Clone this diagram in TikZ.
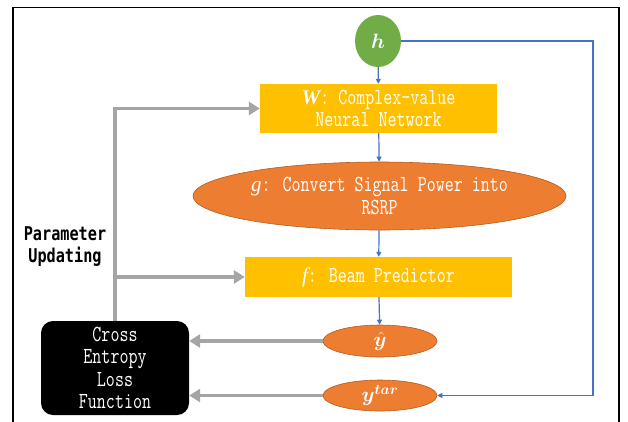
\documentclass[tikz,border=0pt]{standalone}
\usepackage{fontspec}
\usepackage{amsmath,bm}
\usetikzlibrary{arrows.meta,shapes.geometric,calc}
\newfontfamily\boxfont[FakeStretch=0.76]{Latin Modern Mono}
\newfontfamily\labfont[FakeStretch=0.8]{DejaVu Sans Mono}
\newfontfamily\symfont{Liberation Serif}
\definecolor{cyellow}{HTML}{FFC000}
\definecolor{corange}{HTML}{ED7D31}
\definecolor{corangeedge}{HTML}{B65C20}
\definecolor{cgreen}{HTML}{70AD47}
\definecolor{cblue}{HTML}{4472C4}
\definecolor{cgray}{HTML}{A5A5A5}
\tikzset{
  boxtext/.style={text=white,font=\boxfont\fontsize{23}{22.5}\selectfont,align=center,inner sep=0pt},
  yellowbox/.style={boxtext,rectangle,fill=cyellow},
  orangeell/.style={boxtext,ellipse,fill=corange,draw=corangeedge,line width=0.6pt},
  flowarrow/.style={cblue,line width=1.2pt,-{Triangle[length=5pt,width=5pt]}},
  feedback/.style={cgray,line width=3.6pt,-{Triangle[length=11pt,width=13pt]}},
}
\begin{document}
\begin{tikzpicture}[x=1pt,y=-1pt]
\useasboundingbox (0,0) rectangle (628,421);
% outer frame (open at the bottom)
\draw[line width=1.2pt] (13,430) -- (13,7.5) -- (619,7.5) -- (619,430);

% main chain
\node[ellipse,fill=cgreen,minimum width=46pt,minimum height=52pt,inner sep=0pt,text=white,font=\fontsize{20}{20}\selectfont] (h) at (378,41) {$\bm{h}$};
\node[yellowbox,minimum width=237pt,minimum height=49pt] (W) at (378.5,108.5)
  {{\symfont\fontsize{21}{21}\selectfont\bfseries\itshape W}: Complex-value\\Neural Network};
\node[orangeell,minimum width=373pt,minimum height=68pt] (g) at (379.5,196)
  {{\symfont\fontsize{21}{21}\selectfont\itshape g}: Convert Signal Power into\\RSRP};
\node[yellowbox,minimum width=267pt,minimum height=40pt] (f) at (378.5,277)
  {{\symfont\fontsize{21}{21}\selectfont\itshape f}: Beam Predictor};
\node[orangeell,minimum width=114pt,minimum height=32pt] (yhat) at (380,341)
  {\fontsize{20}{20}\selectfont$\bm{\hat{y}}$};
\node[orangeell,minimum width=114pt,minimum height=31pt] (ytar) at (380,395.5)
  {\fontsize{20}{20}\selectfont$\bm{y}^{\bm{tar}}$};

% loss block
\node[boxtext,rectangle,rounded corners=12pt,fill=black,minimum width=148pt,minimum height=94pt] (loss) at (115,368)
  {Cross\\Entropy\\Loss\\Function};

\node[font=\labfont\bfseries\fontsize{19}{22}\selectfont,align=center,inner sep=0pt] (param) at (65,247)
  {Parameter\\Updating};

% forward connectors
\draw[flowarrow] (h) -- (W);
\draw[flowarrow] (W) -- (g);
\draw[flowarrow] (g) -- (f);
\draw[flowarrow] (f) -- (yhat);
\coordinate (corner) at (593,41);
\draw[flowarrow] (h.east) -- (corner) |- (ytar.east);

% loss inputs
\draw[feedback] (yhat.west) -- (yhat.west -| loss.east);
\draw[feedback] (ytar.west) -- (ytar.west -| loss.east);

% parameter update paths
\draw[feedback] (loss.north) |- (W.west);
\draw[feedback] (loss.north) |- (f.west);
\end{tikzpicture}
\end{document}
